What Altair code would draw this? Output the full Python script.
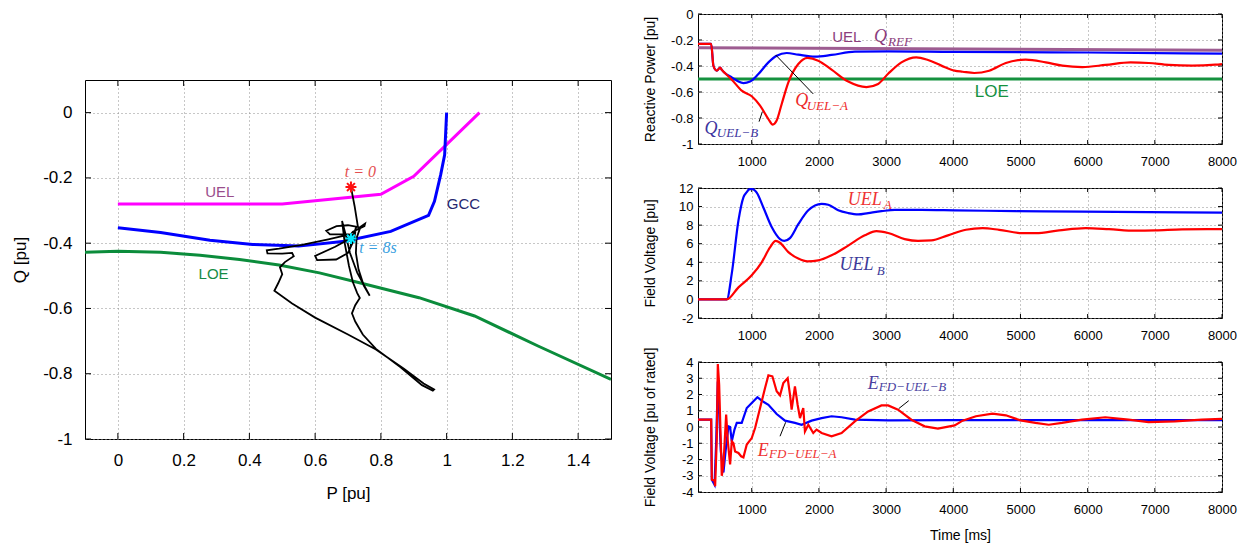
import altair as alt
import pandas as pd

SANS = "Liberation Sans"
SERIF = "Liberation Serif"
GRID = "#8f8f8f"
MINUS = "datum.value < 0 ? '-' + format(-datum.value, '') : format(datum.value, '')"

# ------------------------------------------------------------------
# P-Q plane: limit curves and operating-point trajectory
# ------------------------------------------------------------------
uel_p = [0.0, 0.5, 0.8, 0.9, 1.1]
uel_q = [-0.28, -0.28, -0.25, -0.195, 0.0]

gcc_p = [0.0, 0.13, 0.28, 0.41, 0.55, 0.69, 0.83, 0.945, 0.963, 0.982, 0.994, 1.0]
gcc_q = [-0.353, -0.367, -0.391, -0.404, -0.409, -0.394, -0.364, -0.315, -0.272, -0.19, -0.129, 0.0]

loe_p = [-0.1, 0.0, 0.13, 0.25, 0.37, 0.49, 0.613, 0.735, 0.916, 1.085, 1.278, 1.5]
loe_q = [-0.428, -0.425, -0.428, -0.437, -0.45, -0.467, -0.491, -0.521, -0.567, -0.623, -0.715, -0.817]

traj = [
    (0.709, -0.228), (0.720, -0.286), (0.731, -0.355), (0.740, -0.352),
    (0.700, -0.345), (0.665, -0.348), (0.634, -0.362), (0.645, -0.373),
    (0.690, -0.372), (0.705, -0.373), (0.640, -0.388), (0.560, -0.405),
    (0.490, -0.417), (0.453, -0.422), (0.455, -0.431), (0.500, -0.432),
    (0.530, -0.430), (0.535, -0.440), (0.508, -0.458), (0.493, -0.474),
    (0.500, -0.495), (0.488, -0.522), (0.476, -0.546), (0.530, -0.585),
    (0.600, -0.628), (0.700, -0.680), (0.785, -0.726), (0.870, -0.785),
    (0.930, -0.830), (0.962, -0.848), (0.958, -0.852), (0.925, -0.835),
    (0.860, -0.780), (0.785, -0.724), (0.745, -0.680), (0.722, -0.640),
    (0.712, -0.615), (0.722, -0.590), (0.736, -0.568), (0.728, -0.553),
    (0.715, -0.520), (0.703, -0.470), (0.690, -0.400), (0.682, -0.332),
    (0.692, -0.370), (0.706, -0.430), (0.728, -0.490), (0.752, -0.535),
    (0.766, -0.561), (0.748, -0.530), (0.732, -0.480), (0.724, -0.430),
    (0.726, -0.385), (0.738, -0.350), (0.752, -0.340), (0.750, -0.348),
    (0.715, -0.365), (0.690, -0.395), (0.661, -0.411), (0.600, -0.439),
    (0.606, -0.452), (0.664, -0.450), (0.700, -0.430), (0.718, -0.390),
    (0.725, -0.350), (0.715, -0.380), (0.708, -0.410), (0.714, -0.372),
    (0.709, -0.386),
]
traj_p = [p for p, _ in traj]
traj_q = [q for _, q in traj]

start_pt = (0.709, -0.228)
end_pt = (0.709, -0.386)

p_ticks = [0, 0.2, 0.4, 0.6, 0.8, 1.0, 1.2, 1.4]
q_ticks = [0, -0.2, -0.4, -0.6, -0.8, -1.0]

# ------------------------------------------------------------------
# Time responses
# ------------------------------------------------------------------
t_ticks = [1000, 2000, 3000, 4000, 5000, 6000, 7000, 8000]

qa_t = [200, 396, 430, 480, 530, 555, 604, 703, 851, 1000, 1124, 1248, 1312, 1371,
        1446, 1545, 1693, 1832, 1990, 2188, 2436, 2708, 2881, 3030, 3228, 3450, 3624,
        3822, 4020, 4139, 4312, 4535, 4782, 5079, 5376, 5624, 5921, 6267, 6639, 6911,
        7208, 7554, 7901, 8000]
qa_v = [-0.23, -0.23, -0.40, -0.436, -0.413, -0.43, -0.456, -0.505, -0.59, -0.633,
        -0.705, -0.808, -0.851, -0.82, -0.692, -0.526, -0.385, -0.338, -0.359, -0.428,
        -0.52, -0.562, -0.538, -0.46, -0.372, -0.333, -0.354, -0.397, -0.436, -0.444,
        -0.454, -0.436, -0.377, -0.351, -0.372, -0.397, -0.408, -0.392, -0.372, -0.377,
        -0.392, -0.397, -0.39, -0.385]

qb_t = [200, 396, 430, 480, 530, 555, 604, 703, 802, 876, 975, 1099, 1248, 1371,
        1520, 1693, 1941, 2188, 2535, 3030, 4000, 6000, 8000]
qb_v = [-0.23, -0.23, -0.40, -0.436, -0.413, -0.43, -0.456, -0.487, -0.52, -0.531,
        -0.52, -0.462, -0.372, -0.321, -0.30, -0.313, -0.328, -0.315, -0.29, -0.287,
        -0.292, -0.296, -0.305]

qref_t = [200, 8000]
qref_v = [-0.259, -0.278]
loe_t = [200, 8000]
loe_v = [-0.5, -0.5]
q_axis_ticks = [0, -0.2, -0.4, -0.6, -0.8, -1.0]

va_t = [200, 629, 802, 1000, 1148, 1272, 1356, 1421, 1545, 1693, 1832, 1990, 2188,
        2436, 2683, 2856, 3030, 3277, 3475, 3673, 3921, 4188, 4436, 4683, 5030, 5228,
        5574, 5970, 6317, 6713, 7010, 7406, 8000]
va_v = [0, 0, 1.3, 2.6, 4.0, 5.6, 6.3, 6.1, 5.1, 4.4, 4.1, 4.2, 4.75, 5.8, 6.9, 7.35,
        7.15, 6.5, 6.3, 6.35, 6.9, 7.5, 7.68, 7.5, 7.14, 7.14, 7.43, 7.68, 7.57, 7.4,
        7.43, 7.54, 7.57]

vb_t = [200, 629, 703, 802, 876, 925, 960, 1000, 1035, 1074, 1173, 1297, 1421, 1485,
        1569, 1693, 1842, 2040, 2139, 2287, 2436, 2584, 2733, 2931, 3129, 3525, 4020,
        4930, 5920, 6900, 8000]
vb_v = [0, 0, 2.8, 8.5, 11.0, 11.55, 11.85, 11.9, 11.8, 11.5, 9.9, 7.8, 6.5, 6.3,
        6.6, 8.1, 9.6, 10.3, 10.2, 9.6, 9.3, 9.15, 9.3, 9.5, 9.65, 9.65, 9.6, 9.5,
        9.45, 9.4, 9.35]
v_axis_ticks = [12, 10, 8, 6, 4, 2, 0, -2]

ea_t = [200, 396, 406, 446, 455, 480, 495, 515, 554, 579, 619, 644, 678, 703, 728,
        752, 802, 842, 876, 926, 1000, 1050, 1124, 1198, 1248, 1307, 1371, 1421, 1470,
        1535, 1569, 1594, 1643, 1683, 1718, 1767, 1792, 1842, 1916, 1965, 2040, 2188,
        2337, 2535, 2733, 2931, 3030, 3178, 3376, 3574, 3772, 4020, 4139, 4337, 4584,
        4782, 5000, 5223, 5421, 5619, 5916, 6263, 6609, 6906, 7302, 7698, 8000]
ea_v = [0.45, 0.45, -3.24, -3.3, -3.65, -0.68, 3.88, 2.6, -3.0, -2.3, 0.76, -0.88,
        -2.3, -0.88, -1.0, -1.5, -1.6, -1.8, -1.87, -1.08, -0.68, -0.06, 1.17, 2.4,
        3.18, 3.12, 2.2, 1.95, 2.7, 3.0, 2.0, 1.07, 2.5, 1.37, 0.55, 1.17, -0.27, 0.14,
        -0.37, -0.16, -0.37, -0.57, -0.37, 0.35, 0.96, 1.33, 1.33, 1.07, 0.45, 0.04,
        -0.1, 0.1, 0.39, 0.66, 0.82, 0.72, 0.41, 0.25, 0.14, 0.25, 0.45, 0.6, 0.45,
        0.3, 0.35, 0.45, 0.5]

eb_t = [200, 396, 406, 446, 470, 495, 540, 579, 610, 653, 678, 703, 743, 777, 851,
        926, 1000, 1084, 1148, 1248, 1371, 1495, 1643, 1742, 1891, 2040, 2188, 2337,
        2535, 3030, 4000, 5000, 6000, 7000, 8000]
eb_v = [0.45, 0.45, -3.24, -3.55, -1.0, 2.8, -1.5, -2.8, -1.5, 0.04, 0.0, -0.88,
        -0.16, 0.25, 0.25, 1.17, 1.48, 1.83, 1.62, 1.37, 0.8, 0.39, 0.25, 0.14, 0.39,
        0.55, 0.66, 0.6, 0.45, 0.41, 0.42, 0.42, 0.42, 0.42, 0.42]
e_axis_ticks = [4, 3, 2, 1, 0, -1, -2, -3, -4]

STAR = "M-1,0L1,0M0,-1L0,1M-0.72,-0.72L0.72,0.72M-0.72,0.72L0.72,-0.72"


# ------------------------------------------------------------------
# helpers
# ------------------------------------------------------------------
def x_axis(values, title, lsize, tsize, lpad, title_off):
    return alt.Axis(values=values, title=title, grid=True, gridDash=[1, 3],
                    gridColor=GRID, gridWidth=1, ticks=False, domain=False,
                    labelFont=SANS, labelFontSize=lsize, labelColor="black",
                    labelPadding=lpad, labelFlush=False, labelOverlap=False,
                    labelExpr=MINUS, titleFont=SANS, titleFontSize=tsize,
                    titleFontWeight="normal", titleColor="black",
                    titleY=title_off, titleBaseline="middle")


def y_axis(values, title, lsize, tsize, lpad, title_off):
    return alt.Axis(values=values, title=title, grid=True, gridDash=[1, 3],
                    gridColor=GRID, gridWidth=1, ticks=False, domain=False,
                    labelFont=SANS, labelFontSize=lsize, labelColor="black",
                    labelPadding=lpad, labelFlush=False, labelOverlap=False,
                    labelExpr=MINUS, titleFont=SANS, titleFontSize=tsize,
                    titleFontWeight="normal", titleColor="black",
                    titleX=-title_off, titleBaseline="middle")


def chans(xscale, xaxis, yscale, yaxis):
    def X(f):
        return alt.X(f, type="quantitative", scale=xscale, axis=xaxis)

    def Y(f):
        return alt.Y(f, type="quantitative", scale=yscale, axis=yaxis)
    return X, Y


def series(X, Y, xs, ys, color, width, interp="linear"):
    df = pd.DataFrame({"x": xs, "y": ys, "i": list(range(len(xs)))})
    return alt.Chart(df).mark_line(color=color, strokeWidth=width, clip=True,
                                   interpolate=interp).encode(
        x=X("x"), y=Y("y"), order=alt.Order("i:Q"))


def note(X, Y, x, y, text, color, size, font=SANS, italic=False, align="center"):
    df = pd.DataFrame({"x": [x], "y": [y], "t": [text]})
    props = dict(color=color, fontSize=size, font=font, align=align, baseline="middle")
    if italic:
        props["fontStyle"] = "italic"
    return alt.Chart(df).mark_text(**props).encode(x=X("x"), y=Y("y"), text="t:N")


def leader(X, Y, x1, y1, x2, y2):
    df = pd.DataFrame({"x": [x1], "y": [y1], "x2": [x2], "y2": [y2]})
    return alt.Chart(df).mark_rule(color="black", strokeWidth=1).encode(
        x=X("x"), y=Y("y"), x2="x2:Q", y2="y2:Q")


def border_ticks(X, Y, xvals, yvals, w, h, L):
    xd = pd.DataFrame({"x": xvals})
    yd = pd.DataFrame({"y": yvals})
    st = dict(color="black", strokeWidth=1)
    return [
        alt.Chart(xd).mark_rule(**st).encode(x=X("x"), y=alt.value(h), y2=alt.value(h - L)),
        alt.Chart(xd).mark_rule(**st).encode(x=X("x"), y=alt.value(0), y2=alt.value(L)),
        alt.Chart(yd).mark_rule(**st).encode(y=Y("y"), x=alt.value(0), x2=alt.value(L)),
        alt.Chart(yd).mark_rule(**st).encode(y=Y("y"), x=alt.value(w - L), x2=alt.value(w)),
    ]


# ------------------------------------------------------------------
# P-Q plane
# ------------------------------------------------------------------
LW, LH = 526, 359
Xp, Yq = chans(alt.Scale(domain=[-0.1, 1.5], nice=False, zero=False),
               x_axis(p_ticks, "P [pu]", 17, 17, 13, 54),
               alt.Scale(domain=[-1.0, 0.1], nice=False, zero=False),
               y_axis(q_ticks, "Q [pu]", 17, 17, 13, 65))

stars = pd.DataFrame({"x": [start_pt[0], end_pt[0]], "y": [start_pt[1], end_pt[1]],
                      "c": ["start", "end"]})
star_layer = alt.Chart(stars).mark_point(shape=STAR, filled=False, size=120,
                                         strokeWidth=2, opacity=1).encode(
    x=Xp("x"), y=Yq("y"),
    color=alt.Color("c:N", scale=alt.Scale(domain=["start", "end"],
                                           range=["#ff1010", "#00e8ff"]), legend=None))

pq_layers = border_ticks(Xp, Yq, p_ticks, q_ticks, LW, LH, 6) + [
    series(Xp, Yq, loe_p, loe_q, "#0b8c3b", 3),
    series(Xp, Yq, uel_p, uel_q, "#ff00ff", 3),
    series(Xp, Yq, gcc_p, gcc_q, "#0000ff", 3),
    series(Xp, Yq, traj_p, traj_q, "black", 1.8),
    star_layer,
    note(Xp, Yq, 0.31, -0.243, "UEL", "#994d8c", 15),
    note(Xp, Yq, 1.051, -0.28, "GCC", "#25256e", 15),
    note(Xp, Yq, 0.291, -0.494, "LOE", "#168c45", 15),
    note(Xp, Yq, 0.738, -0.183, "t = 0", "#e45050", 16, SERIF, True),
    note(Xp, Yq, 0.734, -0.414, "t = 8s", "#3aa0e0", 16, SERIF, True, "left"),
]
pq_chart = alt.layer(*pq_layers).properties(width=LW, height=LH)

spacer = alt.Chart(pd.DataFrame({"x": [0]})).mark_point(opacity=0).encode(
    x=alt.value(0), y=alt.value(0)).properties(
    width=LW, height=1, view=alt.ViewBackground(stroke="transparent"))

left_col = alt.vconcat(spacer, pq_chart, spacing=65, bounds="flush")

# ------------------------------------------------------------------
# time panels
# ------------------------------------------------------------------
RW, RH = 524, 130
tscale = alt.Scale(domain=[200, 8000], nice=False, zero=False)

# reactive power
Xt1, Yr = chans(tscale, x_axis(t_ticks, "", 13, 14, 11, 43),
                alt.Scale(domain=[-1, 0], nice=False, zero=False),
                y_axis(q_axis_ticks, "Reactive Power [pu]", 13, 14, 5, 48))
top = alt.layer(*(border_ticks(Xt1, Yr, t_ticks, q_axis_ticks, RW, RH, 4) + [
    series(Xt1, Yr, loe_t, loe_v, "#15913f", 3),
    series(Xt1, Yr, qref_t, qref_v, "#9d5c91", 3),
    series(Xt1, Yr, qb_t, qb_v, "#0000ff", 2.2, "monotone"),
    series(Xt1, Yr, qa_t, qa_v, "#ff0000", 2.2, "monotone"),
    leader(Xt1, Yr, 1916, -0.615, 1356, -0.315),
    leader(Xt1, Yr, 1109, -0.828, 1158, -0.751),
    note(Xt1, Yr, 2416, -0.177, "UEL", "#8b3d7d", 15),
    note(Xt1, Yr, 2916, -0.177, "Q", "#8b3d7d", 18, SERIF, True),
    note(Xt1, Yr, 3030, -0.213, "REF", "#8b3d7d", 13, SERIF, True, "left"),
    note(Xt1, Yr, 1743, -0.672, "Q", "#ee2a2a", 18, SERIF, True),
    note(Xt1, Yr, 1817, -0.705, "UEL\u2212A", "#ee2a2a", 13, SERIF, True, "left"),
    note(Xt1, Yr, 394, -0.885, "Q", "#3c34a0", 18, SERIF, True),
    note(Xt1, Yr, 480, -0.915, "UEL\u2212B", "#3c34a0", 13, SERIF, True, "left"),
    note(Xt1, Yr, 4574, -0.603, "LOE", "#15913f", 17),
])).properties(width=RW, height=RH)

# field voltage
Xt2, Yv = chans(tscale, x_axis(t_ticks, "", 13, 14, 11, 43),
                alt.Scale(domain=[-2, 12], nice=False, zero=False),
                y_axis(v_axis_ticks, "Field Voltage [pu]", 13, 14, 5, 48))
mid = alt.layer(*(border_ticks(Xt2, Yv, t_ticks, v_axis_ticks, RW, RH, 4) + [
    series(Xt2, Yv, vb_t, vb_v, "#0000ff", 2.2, "monotone"),
    series(Xt2, Yv, va_t, va_v, "#ff0000", 2.2, "monotone"),
    note(Xt2, Yv, 2683, 10.7, "UEL", "#ee3333", 18, SERIF, True),
    note(Xt2, Yv, 2965, 10.15, "A", "#ee3333", 13, SERIF, True, "left"),
    note(Xt2, Yv, 2559, 3.68, "UEL", "#3c3a9a", 18, SERIF, True),
    note(Xt2, Yv, 2860, 3.1, "B", "#3c3a9a", 13, SERIF, True, "left"),
])).properties(width=RW, height=RH)

# field voltage, pu of rated
Xt3, Ye = chans(tscale, x_axis(t_ticks, "Time [ms]", 13, 14, 11, 43),
                alt.Scale(domain=[-4, 4], nice=False, zero=False),
                y_axis(e_axis_ticks, "Field Voltage [pu of rated]", 13, 14, 5, 48))
bot = alt.layer(*(border_ticks(Xt3, Ye, t_ticks, e_axis_ticks, RW, RH, 4) + [
    series(Xt3, Ye, eb_t, eb_v, "#0000ff", 2.2),
    series(Xt3, Ye, ea_t, ea_v, "#ff0000", 2.2),
    leader(Xt3, Ye, 3188, 1.13, 3337, 1.62),
    leader(Xt3, Ye, 1421, -0.57, 1505, 0.29),
    note(Xt3, Ye, 2807, 2.65, "E", "#4a3f9f", 18, SERIF, True),
    note(Xt3, Ye, 2891, 2.44, "FD\u2212UEL\u2212B", "#4a3f9f", 13, SERIF, True, "left"),
    note(Xt3, Ye, 1173, -1.46, "E", "#ee3333", 18, SERIF, True),
    note(Xt3, Ye, 1257, -1.66, "FD\u2212UEL\u2212A", "#ee3333", 13, SERIF, True, "left"),
])).properties(width=RW, height=RH)

right_col = alt.vconcat(top, mid, bot, spacing=44, bounds="flush")

chart = alt.hconcat(left_col, right_col, spacing=30).properties(
    padding={"left": 10, "top": 7, "right": 5, "bottom": 5},
    background="white",
).configure_view(stroke="black", strokeWidth=1)

chart.save("out.html", embed_options={"renderer": "svg", "actions": False})
